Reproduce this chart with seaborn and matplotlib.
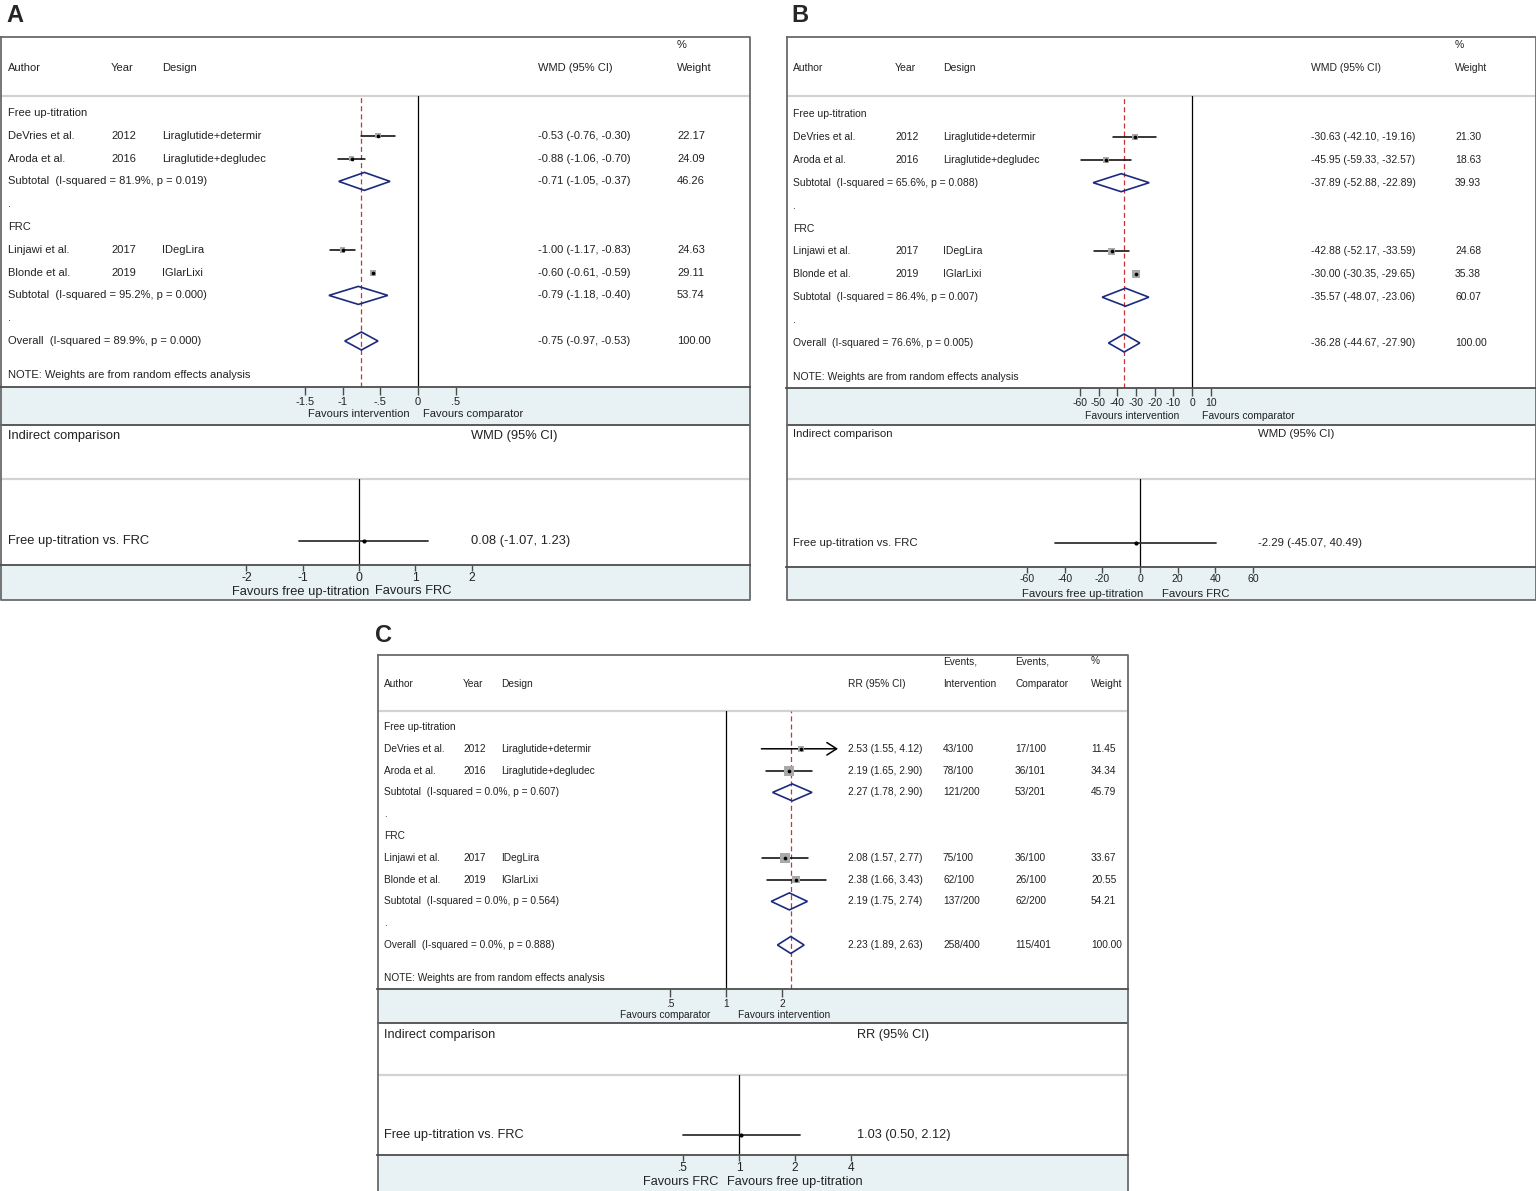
import matplotlib
matplotlib.use("Agg")
import matplotlib.pyplot as plt
from matplotlib.patches import Rectangle, Polygon
from matplotlib.ticker import NullLocator
import seaborn as sns

sns.set_style("white")
plt.rcParams["font.family"] = ["Liberation Sans", "DejaVu Sans"]

W, H = 1536, 1191

# shared study info
authors = ["DeVries et al.", "Aroda et al.", "Linjawi et al.", "Blonde et al."]
years = ["2012", "2016", "2017", "2019"]
designs = ["Liraglutide+determir", "Liraglutide+degludec", "IDegLira", "IGlarLixi"]
groups = ["Free up-titration", "FRC"]

# panel A: WMD
a_est = [-0.53, -0.88, -1.00, -0.60]
a_lo = [-0.76, -1.06, -1.17, -0.61]
a_hi = [-0.30, -0.70, -0.83, -0.59]
a_wt = [22.17, 24.09, 24.63, 29.11]
a_sub_est = [-0.71, -0.79]
a_sub_lo = [-1.05, -1.18]
a_sub_hi = [-0.37, -0.40]
a_sub_wt = [46.26, 53.74]
a_sub_i2 = ["81.9%", "95.2%"]
a_sub_p = ["0.019", "0.000"]
a_all = [-0.75, -0.97, -0.53]
a_all_het = ["89.9%", "0.000"]
a_ind = [0.08, -1.07, 1.23]
a_ticks = [-1.5, -1, -0.5, 0, 0.5]
a_ticklabels = ["-1.5", "-1", "-.5", "0", ".5"]
a_ind_ticks = [-2, -1, 0, 1, 2]
a_ind_ticklabels = ["-2", "-1", "0", "1", "2"]

# panel B: WMD
b_est = [-30.63, -45.95, -42.88, -30.00]
b_lo = [-42.10, -59.33, -52.17, -30.35]
b_hi = [-19.16, -32.57, -33.59, -29.65]
b_wt = [21.30, 18.63, 24.68, 35.38]
b_sub_est = [-37.89, -35.57]
b_sub_lo = [-52.88, -48.07]
b_sub_hi = [-22.89, -23.06]
b_sub_wt = [39.93, 60.07]
b_sub_i2 = ["65.6%", "86.4%"]
b_sub_p = ["0.088", "0.007"]
b_all = [-36.28, -44.67, -27.90]
b_all_het = ["76.6%", "0.005"]
b_ind = [-2.29, -45.07, 40.49]
b_ticks = [-60, -50, -40, -30, -20, -10, 0, 10]
b_ticklabels = ["-60", "-50", "-40", "-30", "-20", "-10", "0", "10"]
b_ind_ticks = [-60, -40, -20, 0, 20, 40, 60]
b_ind_ticklabels = ["-60", "-40", "-20", "0", "20", "40", "60"]

# panel C: RR
c_est = [2.53, 2.19, 2.08, 2.38]
c_lo = [1.55, 1.65, 1.57, 1.66]
c_hi = [4.12, 2.90, 2.77, 3.43]
c_wt = [11.45, 34.34, 33.67, 20.55]
c_ev_int = ["43/100", "78/100", "75/100", "62/100"]
c_ev_cmp = ["17/100", "36/101", "36/100", "26/100"]
c_sub_est = [2.27, 2.19]
c_sub_lo = [1.78, 1.75]
c_sub_hi = [2.90, 2.74]
c_sub_wt = [45.79, 54.21]
c_sub_ev_int = ["121/200", "137/200"]
c_sub_ev_cmp = ["53/201", "62/200"]
c_sub_i2 = ["0.0%", "0.0%"]
c_sub_p = ["0.607", "0.564"]
c_all = [2.23, 1.89, 2.63]
c_all_het = ["0.0%", "0.888"]
c_all_ev = ["258/400", "115/401"]
c_ind = [1.03, 0.50, 2.12]
c_ticks = [0.5, 1, 2]
c_ticklabels = [".5", "1", "2"]
c_ind_ticks = [0.5, 1, 2, 4]
c_ind_ticklabels = [".5", "1", "2", "4"]

BAND = "#e8f1f4"
DARK = "#4d4d4d"
NAVY = "#1b2a7e"
RED = "#c8323c"


def fmt_ci(e, lo, hi):
    return f"{e:.2f} ({lo:.2f}, {hi:.2f})"


def hline(bg, x0, x1, y, color, lw):
    bg.plot([x0, x1], [y, y], color=color, lw=lw, solid_capstyle="butt")


def forest_axes(fig, x0, x1, ytop, ybot, zero, ppu, log, ticks, labels, fs, tlen=6, pad=1.5):
    ax = fig.add_axes([x0 / W, 1 - ybot / H, (x1 - x0) / W, (ybot - ytop) / H])
    ax.set_facecolor("none")
    if log:
        ax.set_xscale("log", base=2)
        ax.set_xlim(2 ** ((x0 - zero) / ppu), 2 ** ((x1 - zero) / ppu))
    else:
        ax.set_xlim((x0 - zero) / ppu, (x1 - zero) / ppu)
    ax.set_ylim(ybot, ytop)
    for s in ("top", "left", "right"):
        ax.spines[s].set_visible(False)
    ax.spines["bottom"].set_color(DARK)
    ax.spines["bottom"].set_linewidth(1.3)
    ax.set_yticks([])
    ax.set_xticks(ticks)
    ax.set_xticklabels(labels)
    ax.xaxis.set_minor_locator(NullLocator())
    ax.tick_params(axis="x", bottom=True, direction="out", length=tlen, width=1,
                   color=DARK, pad=pad, labelsize=fs, labelcolor="#222222")
    return ax


def diamond(ax, e, lo, hi, y, h):
    ax.add_patch(Polygon([(lo, y), (e, y - h), (hi, y), (e, y + h)], closed=True,
                         fill=False, edgecolor=NAVY, lw=1.2, zorder=5))


def draw_panel(fig, bg, g, d):
    x0, x1 = g["x0"], g["x1"]
    fs, ifs = g["fs"], g["ifs"]
    cols = g["cols"]
    ref = 1 if g["log"] else 0

    # background bands and frame
    for (t, b) in (g["band1"], g["band2"]):
        bg.add_patch(Rectangle((x0, t), x1 - x0, b - t, facecolor=BAND, edgecolor="none"))
    hline(bg, x0, x1, g["sep"], "#d2d2d2", 1.6)
    hline(bg, x0, x1, g["sep2"], "#d2d2d2", 1.6)
    hline(bg, x0, x1, g["band1"][1], DARK, 1.3)
    bg.plot([x0 + 0.5, x1 - 0.5, x1 - 0.5, x0 + 0.5, x0 + 0.5],
            [g["top"], g["top"], g["bottom"] - 0.5, g["bottom"] - 0.5, g["top"]],
            color="#6a6a6a", lw=1.3)
    bg.text(g["label"][0], g["label"][1], g["label"][2], fontsize=17,
            fontweight="bold", ha="left", va="center")

    # header
    tk = dict(fontsize=fs, va="center", ha="left", color="#222222")
    bg.text(cols[0], g["head"], "Author", **tk)
    bg.text(cols[1], g["head"], "Year", **tk)
    bg.text(cols[2], g["head"], "Design", **tk)
    bg.text(cols[3], g["head"], d["measure"], **tk)
    if d["events"] is not None:
        bg.text(cols[4], g["head_top"], "Events,", **tk)
        bg.text(cols[4], g["head"], "Intervention", **tk)
        bg.text(cols[5], g["head_top"], "Events,", **tk)
        bg.text(cols[5], g["head"], "Comparator", **tk)
    bg.text(cols[-1], g["head_top"], "%", **tk)
    bg.text(cols[-1], g["head"], "Weight", **tk)

    # rows
    ys = [g["row0"] + i * g["dy"] for i in range(11)]
    study_rows = [ys[1], ys[2], ys[6], ys[7]]
    sub_rows = [ys[3], ys[8]]
    for gi, yy in zip(range(2), (ys[0], ys[5])):
        bg.text(cols[0], yy, groups[gi], **tk)
    for yy in (ys[4], ys[9]):
        bg.text(cols[0], yy, ".", **tk)
    for i, yy in enumerate(study_rows):
        bg.text(cols[0], yy, authors[i], **tk)
        bg.text(cols[1], yy, years[i], **tk)
        bg.text(cols[2], yy, designs[i], **tk)
        bg.text(cols[3], yy, fmt_ci(d["est"][i], d["lo"][i], d["hi"][i]), **tk)
        if d["events"] is not None:
            bg.text(cols[4], yy, d["events"][0][i], **tk)
            bg.text(cols[5], yy, d["events"][1][i], **tk)
        bg.text(cols[-1], yy, f"{d['wt'][i]:.2f}", **tk)
    for j, yy in enumerate(sub_rows):
        bg.text(cols[0], yy, f"Subtotal  (I-squared = {d['sub_i2'][j]}, p = {d['sub_p'][j]})", **tk)
        bg.text(cols[3], yy, fmt_ci(d["sub_est"][j], d["sub_lo"][j], d["sub_hi"][j]), **tk)
        if d["events"] is not None:
            bg.text(cols[4], yy, d["sub_events"][0][j], **tk)
            bg.text(cols[5], yy, d["sub_events"][1][j], **tk)
        bg.text(cols[-1], yy, f"{d['sub_wt'][j]:.2f}", **tk)
    bg.text(cols[0], ys[10], f"Overall  (I-squared = {d['all_het'][0]}, p = {d['all_het'][1]})", **tk)
    bg.text(cols[3], ys[10], fmt_ci(*d["all"]), **tk)
    if d["events"] is not None:
        bg.text(cols[4], ys[10], d["all_events"][0], **tk)
        bg.text(cols[5], ys[10], d["all_events"][1], **tk)
    bg.text(cols[-1], ys[10], "100.00", **tk)
    bg.text(cols[0], g["note"], "NOTE: Weights are from random effects analysis", **tk)

    # favours labels
    fr, fl, fy = g["fav"]
    bg.text(fr, fy, d["fav"][0], fontsize=fs, ha="right", va="center", color="#222222")
    bg.text(fl, fy, d["fav"][1], fontsize=fs, ha="left", va="center", color="#222222")
    fr, fl, fy = g["ifav"]
    bg.text(fr, fy, "Favours free up-titration" if not g["log"] else "Favours FRC",
            fontsize=ifs, ha="right", va="center", color="#222222")
    bg.text(fl, fy, "Favours FRC" if not g["log"] else "Favours free up-titration",
            fontsize=ifs, ha="left", va="center", color="#222222")

    # indirect comparison text
    tki = dict(fontsize=ifs, va="center", ha="left", color="#222222")
    bg.text(cols[0], g["ind_head"], "Indirect comparison", **tki)
    bg.text(g["ind_col"], g["ind_head"], d["measure"], **tki)
    bg.text(cols[0], g["ind_row"], "Free up-titration vs. FRC", **tki)
    bg.text(g["ind_col"], g["ind_row"], fmt_ci(*d["ind"]), **tki)

    # top forest
    ax = forest_axes(fig, x0, x1, g["sep"], g["band1"][0], g["zero"], g["ppu"], g["log"],
                     d["ticks"], d["ticklabels"], fs)
    ax.axvline(ref, color="black", lw=0.9, zorder=1)
    ax.axvline(d["all"][0], color=RED, lw=0.9, ls=(0, (4, 2.5)), zorder=2)
    clip = g.get("clip")
    for i, yy in enumerate(study_rows):
        lo, hi = d["lo"][i], d["hi"][i]
        if clip is not None and hi > clip:
            ax.annotate("", xy=(clip, yy), xytext=(lo, yy),
                        arrowprops=dict(arrowstyle="->,head_length=0.7,head_width=0.45",
                                        color="black", lw=1.1, shrinkA=0, shrinkB=0))
        else:
            ax.plot([lo, hi], [yy, yy], color="black", lw=1.1, zorder=3)
    sizes = [(g["sq"] * w ** 0.5 / 1.389) ** 2 for w in d["wt"]]
    sns.scatterplot(x=d["est"], y=study_rows, s=sizes, marker="s", color="#a9a9a9",
                    linewidth=0, legend=False, ax=ax, zorder=4)
    sns.scatterplot(x=d["est"], y=study_rows, s=7, marker="o", color="black",
                    linewidth=0, legend=False, ax=ax, zorder=5)
    for j, yy in enumerate(sub_rows):
        diamond(ax, d["sub_est"][j], d["sub_lo"][j], d["sub_hi"][j], yy, g["dh"])
    diamond(ax, d["all"][0], d["all"][1], d["all"][2], ys[10], g["dh"])

    # indirect forest
    ax2 = forest_axes(fig, x0, x1, g["sep2"], g["band2"][0], g["izero"], g["ippu"], g["log"],
                      d["ind_ticks"], d["ind_ticklabels"], ifs - 0.6, tlen=4.5, pad=0.3)
    ax2.axvline(ref, color="black", lw=0.9, zorder=1)
    ax2.plot([d["ind"][1], d["ind"][2]], [g["ind_row"]] * 2, color="#333333", lw=1.3, zorder=3)
    sns.scatterplot(x=[d["ind"][0]], y=[g["ind_row"]], s=9, marker="o", color="black",
                    linewidth=0, legend=False, ax=ax2, zorder=5)


fig = plt.figure(figsize=(W / 100, H / 100), dpi=100)
bg = fig.add_axes([0, 0, 1, 1])
bg.set_xlim(0, W)
bg.set_ylim(H, 0)
bg.axis("off")

geo_a = dict(x0=0, x1=750, top=37, bottom=600, head_top=45, head=68, sep=96,
             row0=113, dy=22.8, note=375, band1=(387, 425), ind_head=436, sep2=479,
             ind_row=541, band2=(565, 600), zero=418, ppu=75.5, izero=359, ippu=56.3,
             cols=[8, 111, 162, 538, 677], ind_col=471, fs=8, ifs=9.3,
             fav=(410, 423, 414), ifav=(369, 375, 591.5), label=(6, 15, "A"),
             sq=1.1, dh=9, log=False)
geo_b = dict(x0=786, x1=1536, top=37, bottom=600, head_top=45, head=68, sep=96,
             row0=114, dy=22.9, note=377, band1=(388, 425), ind_head=434, sep2=479,
             ind_row=543, band2=(567, 600), zero=1192, ppu=1.87, izero=1140, ippu=1.885,
             cols=[793, 895, 943, 1311, 1455], ind_col=1258, fs=7.5, ifs=8.2,
             fav=(1179, 1202, 416), ifav=(1143, 1162, 594), label=(791, 15, "B"),
             sq=1.35, dh=9, log=False)
geo_c = dict(x0=377, x1=1128, top=655, bottom=1192, head_top=661, head=684, sep=711,
             row0=727, dy=21.8, note=978, band1=(989, 1023), ind_head=1035, sep2=1075,
             ind_row=1135, band2=(1155, 1192), zero=726, ppu=56, izero=739, ippu=56,
             cols=[384, 463, 501, 848, 943, 1015, 1091], ind_col=857, fs=7.3, ifs=9.2,
             fav=(710, 738, 1015), ifav=(718, 727, 1182), label=(375, 635, "C"),
             sq=1.7, dh=8.5, log=True, clip=4.0)

data_a = dict(measure="WMD (95% CI)", est=a_est, lo=a_lo, hi=a_hi, wt=a_wt,
              sub_est=a_sub_est, sub_lo=a_sub_lo, sub_hi=a_sub_hi, sub_wt=a_sub_wt,
              sub_i2=a_sub_i2, sub_p=a_sub_p, all=a_all, all_het=a_all_het, ind=a_ind,
              ticks=a_ticks, ticklabels=a_ticklabels, ind_ticks=a_ind_ticks,
              ind_ticklabels=a_ind_ticklabels, events=None,
              fav=("Favours intervention", "Favours comparator"))
data_b = dict(measure="WMD (95% CI)", est=b_est, lo=b_lo, hi=b_hi, wt=b_wt,
              sub_est=b_sub_est, sub_lo=b_sub_lo, sub_hi=b_sub_hi, sub_wt=b_sub_wt,
              sub_i2=b_sub_i2, sub_p=b_sub_p, all=b_all, all_het=b_all_het, ind=b_ind,
              ticks=b_ticks, ticklabels=b_ticklabels, ind_ticks=b_ind_ticks,
              ind_ticklabels=b_ind_ticklabels, events=None,
              fav=("Favours intervention", "Favours comparator"))
data_c = dict(measure="RR (95% CI)", est=c_est, lo=c_lo, hi=c_hi, wt=c_wt,
              sub_est=c_sub_est, sub_lo=c_sub_lo, sub_hi=c_sub_hi, sub_wt=c_sub_wt,
              sub_i2=c_sub_i2, sub_p=c_sub_p, all=c_all, all_het=c_all_het, ind=c_ind,
              ticks=c_ticks, ticklabels=c_ticklabels, ind_ticks=c_ind_ticks,
              ind_ticklabels=c_ind_ticklabels, events=(c_ev_int, c_ev_cmp),
              sub_events=(c_sub_ev_int, c_sub_ev_cmp), all_events=c_all_ev,
              fav=("Favours comparator", "Favours intervention"))

draw_panel(fig, bg, geo_a, data_a)
draw_panel(fig, bg, geo_b, data_b)
draw_panel(fig, bg, geo_c, data_c)

fig.savefig("out.png", dpi=100, facecolor="white")
